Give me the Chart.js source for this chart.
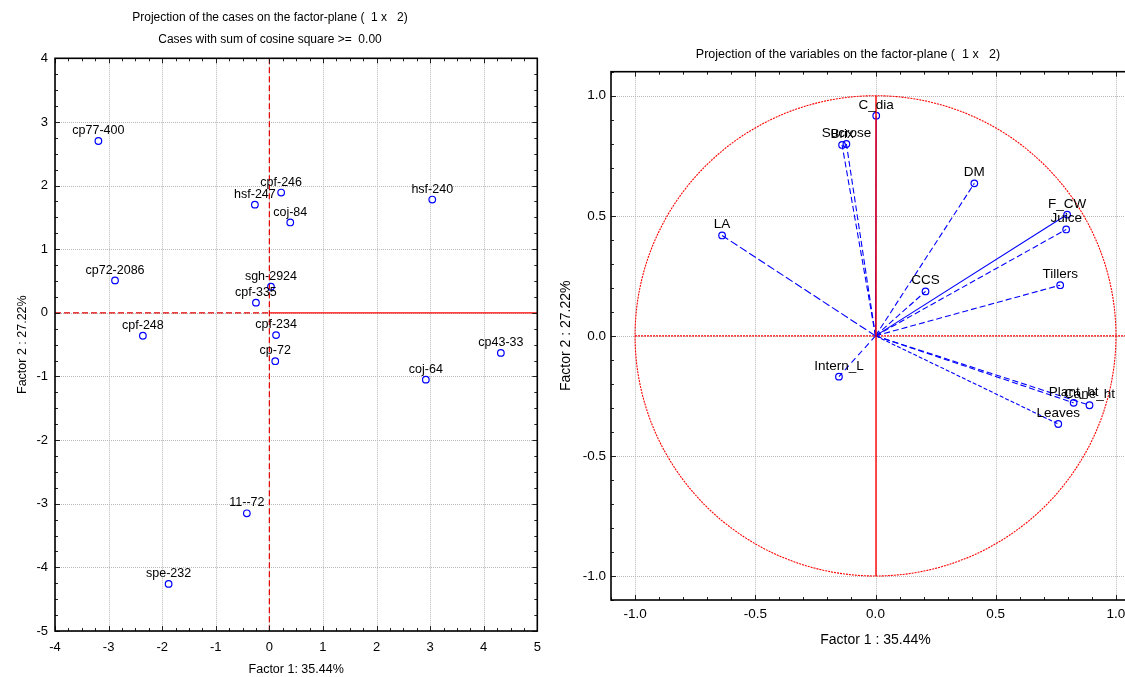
<!DOCTYPE html>
<html>
<head>
<meta charset="utf-8">
<script src="https://cdn.jsdelivr.net/npm/chart.js@4.4.1/dist/chart.umd.min.js"></script>
<style>
  html, body { margin:0; padding:0; width:1125px; height:677px; overflow:hidden; background:#fff; }
  canvas { position:absolute; top:0; }
  #c1 { left:0; z-index:1; }
  #c2 { left:545px; z-index:2; }
</style>
</head>
<body>
<canvas id="c1" width="560" height="677"></canvas>
<canvas id="c2" width="615" height="677"></canvas>
<script>
// ---------- Data: cases (left plot) ----------
const caseLabels = ['cp77-400','cp72-2086','cpf-248','hsf-247','cpf-246','coj-84','sgh-2924','cpf-335','cpf-234','cp-72','hsf-240','coj-64','cp43-33','11--72','spe-232'];
const caseF1 = [-3.19,-2.88,-2.36,-0.27,0.22,0.39,0.03,-0.25,0.125,0.11,3.04,2.92,4.32,-0.42,-1.88];
const caseF2 = [2.70,0.51,-0.36,1.70,1.89,1.42,0.41,0.16,-0.35,-0.76,1.78,-1.05,-0.63,-3.15,-4.26];
const caseXTicks = [-4,-3,-2,-1,0,1,2,3,4,5];
const caseYTicks = [-5,-4,-3,-2,-1,0,1,2,3,4];

// ---------- Data: variables (right plot) ----------
const varLabels = ['C_dia','Sucrose','Brix','LA','DM','F_CW','Juice','Tillers','CCS','Intern_L','Plant_ht','Cane_ht','Leaves'];
const varF1 = [0.003,-0.121,-0.139,-0.638,0.411,0.797,0.793,0.768,0.208,-0.152,0.824,0.890,0.760];
const varF2 = [0.917,0.799,0.795,0.418,0.635,0.505,0.443,0.211,0.185,-0.170,-0.279,-0.289,-0.367];
const varTicks = [-1.0,-0.5,0.0,0.5,1.0];

// styles (kept apart from data)
const varDash = [[],[6,3],[6,3],[8,3],[6,3],[],[6,3],[6,3],[6,3],[6,4],[6,3],[6,3],[4,2]];

const FONT = 'Arial, "Liberation Sans", sans-serif';
Chart.defaults.font.family = FONT;
Chart.defaults.color = '#000';
const BLUE = '#0000ff';
const RED = '#ff0000';

function seg(ctx, x1, y1, x2, y2) { ctx.beginPath(); ctx.moveTo(x1, y1); ctx.lineTo(x2, y2); ctx.stroke(); }

function drawFrameTicks(ctx, a, xs, ys, xMajor, yMajor, xMinorStep, yMinorStep, xMin, xMax, yMin, yMax) {
  ctx.save();
  ctx.setLineDash([]);
  ctx.strokeStyle = '#222';
  ctx.lineWidth = 1;
  const nx = Math.round((xMax - xMin) / xMinorStep);
  for (let i = 0; i <= nx; i++) {
    const v = xMin + i * xMinorStep;
    const px = Math.round(xs.getPixelForValue(v)) + 0.5;
    const major = xMajor.some(m => Math.abs(m - v) < 1e-6);
    const L = major ? 5 : 3;
    seg(ctx, px, a.bottom, px, a.bottom - L);
    seg(ctx, px, a.top, px, a.top + L);
  }
  const ny = Math.round((yMax - yMin) / yMinorStep);
  for (let i = 0; i <= ny; i++) {
    const v = yMin + i * yMinorStep;
    const py = Math.round(ys.getPixelForValue(v)) + 0.5;
    const major = yMajor.some(m => Math.abs(m - v) < 1e-6);
    const L = major ? 5 : 3;
    seg(ctx, a.left, py, a.left + L, py);
    seg(ctx, a.right, py, a.right - L, py);
  }
  ctx.lineWidth = 1.6;
  ctx.strokeStyle = '#000';
  ctx.strokeRect(a.left, a.top, a.right - a.left, a.bottom - a.top);
  ctx.restore();
}

function drawGrid(ctx, a, xs, ys, xv, yv) {
  ctx.save();
  ctx.strokeStyle = '#b8b8b8';
  ctx.lineWidth = 1;
  ctx.setLineDash([1, 1]);
  xv.forEach(v => { const px = Math.round(xs.getPixelForValue(v)) + 0.5; seg(ctx, px, a.top, px, a.bottom); });
  yv.forEach(v => { const py = Math.round(ys.getPixelForValue(v)) + 0.5; seg(ctx, a.left, py, a.right, py); });
  ctx.restore();
}

// ---------------- Left chart ----------------
const leftDecor = {
  id: 'leftDecor',
  beforeDatasetsDraw(chart) {
    const { ctx, chartArea: a, scales: { x, y } } = chart;
    drawGrid(ctx, a, x, y, caseXTicks, caseYTicks);
    ctx.save();
    ctx.strokeStyle = '#e00000';
    ctx.lineWidth = 1.2;
    const x0 = x.getPixelForValue(0), y0 = y.getPixelForValue(0);
    ctx.setLineDash([6, 3]);
    seg(ctx, x0, a.top, x0, a.bottom);
    seg(ctx, a.left, y0, x0, y0);
    ctx.setLineDash([]);
    ctx.strokeStyle = RED;
    ctx.lineWidth = 1.4;
    seg(ctx, x0, y0, a.right, y0);
    ctx.restore();
  },
  afterDatasetsDraw(chart) {
    const { ctx, chartArea: a, scales: { x, y } } = chart;
    drawFrameTicks(ctx, a, x, y, caseXTicks, caseYTicks, 0.25, 0.25, -4, 5, -5, 4);
    ctx.save();
    const meta = chart.getDatasetMeta(0);
    ctx.font = '12.5px ' + FONT;
    ctx.fillStyle = '#000';
    ctx.textAlign = 'center';
    ctx.textBaseline = 'bottom';
    meta.data.forEach((pt, i) => { ctx.fillText(caseLabels[i], pt.x, pt.y - 4); });
    ctx.font = '12px ' + FONT;
    ctx.textBaseline = 'middle';
    ctx.fillText('Projection of the cases on the factor-plane (  1 x   2)', 270, 18);
    ctx.fillText('Cases with sum of cosine square >=  0.00', 270, 40);
    ctx.restore();
  }
};

new Chart(document.getElementById('c1'), {
  type: 'scatter',
  data: {
    datasets: [{
      data: caseF1.map((v, i) => ({ x: v, y: caseF2[i] })),
      pointStyle: 'circle',
      pointRadius: 3.3,
      pointBorderWidth: 1.2,
      borderColor: BLUE,
      backgroundColor: 'rgba(0,0,0,0)'
    }]
  },
  options: {
    responsive: false,
    animation: false,
    devicePixelRatio: 1,
    layout: { padding: { top: 58.3, right: 22.7, bottom: 0, left: 0 } },
    plugins: { legend: { display: false }, tooltip: { enabled: false } },
    scales: {
      x: {
        type: 'linear', min: -4, max: 5,
        afterBuildTicks: s => { s.ticks = caseXTicks.map(v => ({ value: v })); },
        afterFit: s => { s.height = 46; },
        grid: { display: false, drawTicks: false },
        border: { display: false },
        ticks: { font: { size: 13 }, padding: 9, maxRotation: 0, callback: v => String(v) },
        title: { display: true, text: 'Factor 1: 35.44%', font: { size: 12.5 }, padding: { top: 0, bottom: 0 } }
      },
      y: {
        type: 'linear', min: -5, max: 4,
        afterBuildTicks: s => { s.ticks = caseYTicks.map(v => ({ value: v })); },
        afterFit: s => { s.width = 55; },
        grid: { display: false, drawTicks: false },
        border: { display: false },
        ticks: { font: { size: 13 }, padding: 7, callback: v => String(v) },
        title: { display: true, text: 'Factor 2 : 27.22%', font: { size: 12.5 }, padding: { top: 15, bottom: 0 } }
      }
    }
  },
  plugins: [leftDecor]
});

// ---------------- Right chart ----------------
const rightDecor = {
  id: 'rightDecor',
  beforeDatasetsDraw(chart) {
    const { ctx, chartArea: a, scales: { x, y } } = chart;
    drawGrid(ctx, a, x, y, varTicks, varTicks);
    ctx.save();
    const x0 = x.getPixelForValue(0), y0 = y.getPixelForValue(0);
    const rx = x.getPixelForValue(1) - x0, ry = y0 - y.getPixelForValue(1);
    ctx.strokeStyle = RED;
    ctx.lineWidth = 1.1;
    ctx.setLineDash([2, 1]);
    ctx.beginPath();
    ctx.ellipse(x0, y0, rx, ry, 0, 0, Math.PI * 2);
    ctx.stroke();
    seg(ctx, x.getPixelForValue(-1), y0, a.right, y0);
    ctx.restore();
  },
  afterDatasetsDraw(chart) {
    const { ctx, chartArea: a, scales: { x, y } } = chart;
    ctx.save();
    const x0 = x.getPixelForValue(0);
    ctx.strokeStyle = RED;
    ctx.lineWidth = 1.4;
    seg(ctx, x0 + 0.5, y.getPixelForValue(1), x0 + 0.5, y.getPixelForValue(-1));
    ctx.restore();
    drawFrameTicks(ctx, a, x, y, varTicks, varTicks, 0.1, 0.1, -1.1, 1.1, -1.1, 1.1);
    ctx.save();
    ctx.font = '13.5px ' + FONT;
    ctx.fillStyle = '#000';
    ctx.textAlign = 'center';
    ctx.textBaseline = 'bottom';
    varLabels.forEach((lab, i) => {
      const pt = chart.getDatasetMeta(i).data[1];
      ctx.fillText(lab, pt.x, pt.y - 4);
    });
    ctx.font = '12.5px ' + FONT;
    ctx.textBaseline = 'middle';
    ctx.fillText('Projection of the variables on the factor-plane (  1 x   2)', 303, 55);
    ctx.restore();
  }
};

new Chart(document.getElementById('c2'), {
  type: 'scatter',
  data: {
    datasets: varLabels.map((lab, i) => ({
      label: lab,
      data: [{ x: 0, y: 0 }, { x: varF1[i], y: varF2[i] }],
      showLine: true,
      borderColor: BLUE,
      borderWidth: 1.1,
      borderDash: varDash[i],
      backgroundColor: 'rgba(0,0,0,0)',
      pointBorderColor: BLUE,
      pointBackgroundColor: 'rgba(0,0,0,0)',
      pointRadius: [0, 3.3],
      pointBorderWidth: 1.2
    }))
  },
  options: {
    responsive: false,
    animation: false,
    devicePixelRatio: 1,
    layout: { padding: { top: 71.7, right: 20, bottom: 0, left: 0 } },
    plugins: { legend: { display: false }, tooltip: { enabled: false } },
    scales: {
      x: {
        type: 'linear', min: -1.1, max: 1.1,
        afterBuildTicks: s => { s.ticks = varTicks.map(v => ({ value: v })); },
        afterFit: s => { s.height = 77; },
        grid: { display: false, drawTicks: false },
        border: { display: false },
        ticks: { font: { size: 13.5 }, padding: 6, maxRotation: 0, callback: v => Number(v).toFixed(1) },
        title: { display: true, text: 'Factor 1 : 35.44%', font: { size: 14 }, padding: { top: 0, bottom: 28.6 } }
      },
      y: {
        type: 'linear', min: -1.1, max: 1.1,
        afterBuildTicks: s => { s.ticks = varTicks.map(v => ({ value: v })); },
        afterFit: s => { s.width = 66; },
        grid: { display: false, drawTicks: false },
        border: { display: false },
        ticks: { font: { size: 13.5 }, padding: 5, callback: v => Number(v).toFixed(1) },
        title: { display: true, text: 'Factor 2 : 27.22%', font: { size: 14 }, padding: { top: 13, bottom: 0 } }
      }
    }
  },
  plugins: [rightDecor]
});
</script>
</body>
</html>
